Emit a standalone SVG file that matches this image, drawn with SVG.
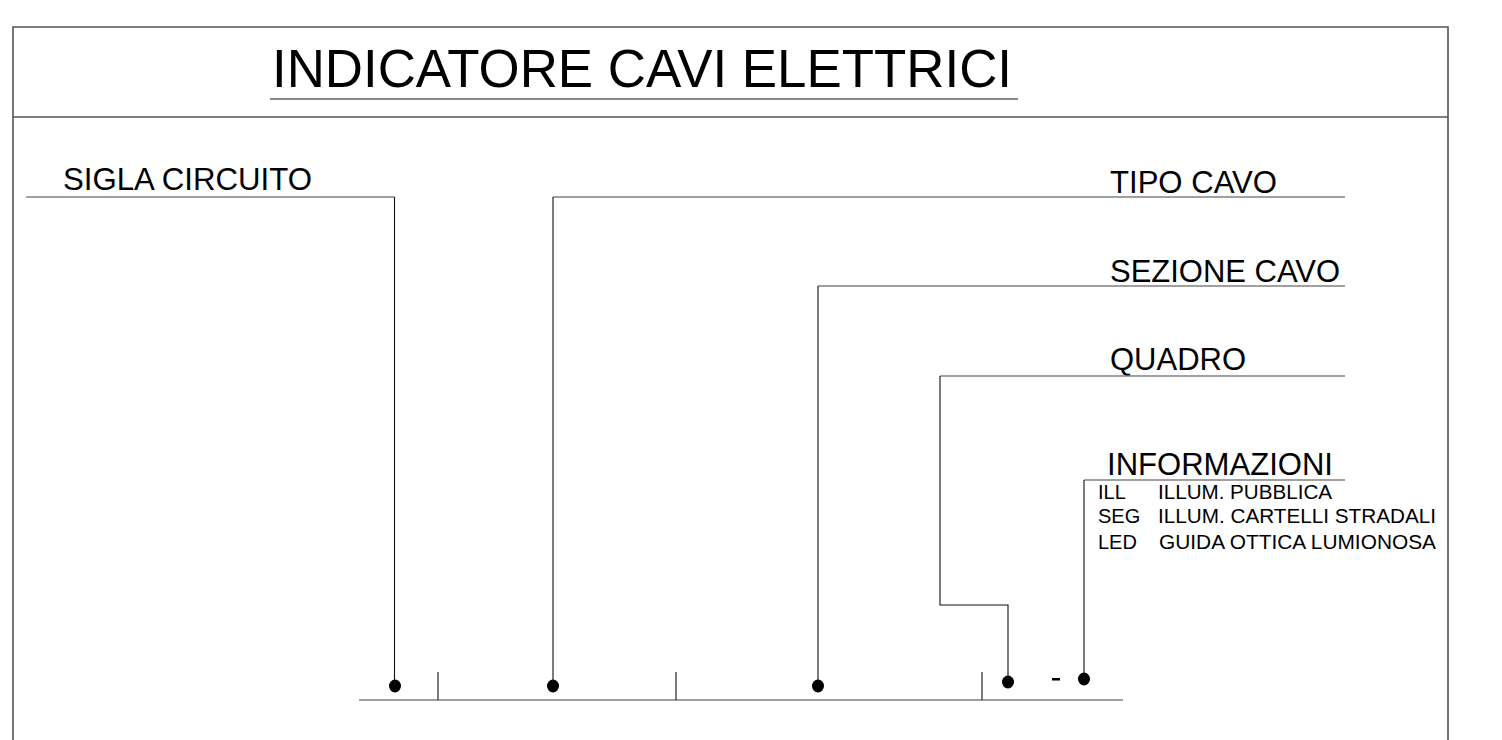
<svg xmlns="http://www.w3.org/2000/svg" width="1502" height="740" viewBox="0 0 1502 740">
<style>
.frame{stroke:#555;stroke-width:1.6;fill:none}
.ln{stroke:#111;stroke-width:1.1;fill:none}
.hl{stroke:#808080;stroke-width:1.6;fill:none}
.lbl{font-family:"Liberation Sans",Arial,sans-serif;font-size:31px;fill:#000}
.sm{font-family:"Liberation Sans",Arial,sans-serif;font-size:20px;fill:#000}
.dot{fill:#000}
</style>
<rect width="1502" height="740" fill="#fff"/>
<g id="frame">
<path class="frame" d="M13,742 V27 H1448 V742"/>
<line class="frame" x1="13" y1="117" x2="1448" y2="117"/>
</g>
<g id="title">
<text x="272" y="87" font-family="Liberation Sans,Arial,sans-serif" font-size="53" textLength="740" lengthAdjust="spacingAndGlyphs">INDICATORE CAVI ELETTRICI</text>
<line class="ln" x1="270" y1="99" x2="1018" y2="99"/>
</g>
<g id="sigla"><text class="lbl" x="63" y="190" textLength="249" lengthAdjust="spacingAndGlyphs">SIGLA CIRCUITO</text></g>
<g id="tipo"><text class="lbl" x="1110" y="193" textLength="167" lengthAdjust="spacingAndGlyphs">TIPO CAVO</text></g>
<g id="sezione"><text class="lbl" x="1110" y="282" textLength="230" lengthAdjust="spacingAndGlyphs">SEZIONE CAVO</text></g>
<g id="quadro"><text class="lbl" x="1110" y="370">QUADRO</text></g>
<g id="informazioni">
<text class="lbl" x="1107" y="475" textLength="226" lengthAdjust="spacingAndGlyphs">INFORMAZIONI</text>
<text class="sm" x="1098" y="499">ILL</text><text class="sm" x="1158" y="499" textLength="174" lengthAdjust="spacingAndGlyphs">ILLUM. PUBBLICA</text>
<text class="sm" x="1098" y="523">SEG</text><text class="sm" x="1158" y="523" textLength="278" lengthAdjust="spacingAndGlyphs">ILLUM. CARTELLI STRADALI</text>
<text class="sm" x="1098" y="549">LED</text><text class="sm" x="1159" y="549" textLength="277" lengthAdjust="spacingAndGlyphs">GUIDA OTTICA LUMIONOSA</text>
</g>
<g id="code-bar">
<line class="hl" x1="359" y1="700" x2="1123" y2="700"/>
<line class="ln" x1="438" y1="672" x2="438" y2="700"/>
<line class="ln" x1="676" y1="672" x2="676" y2="700"/>
<line class="ln" x1="982" y1="672" x2="982" y2="700"/>
<rect x="1052" y="678" width="8" height="2.5" fill="#000"/>
<ellipse class="dot" cx="395" cy="686" rx="6" ry="6.5"/>
<ellipse class="dot" cx="553" cy="686" rx="6" ry="6.5"/>
<ellipse class="dot" cx="818" cy="686" rx="6" ry="6.5"/>
<ellipse class="dot" cx="1008" cy="682" rx="6" ry="6.5"/>
<ellipse class="dot" cx="1084" cy="679" rx="6" ry="6.5"/>
</g>
<g id="connectors">
<line class="hl" x1="26" y1="197" x2="394.5" y2="197"/>
<line class="ln" x1="394.5" y1="197" x2="394.5" y2="686"/>
<line class="hl" x1="553" y1="197" x2="1345" y2="197"/>
<line class="ln" x1="553" y1="197" x2="553" y2="686"/>
<line class="hl" x1="818" y1="286" x2="1345" y2="286"/>
<line class="ln" x1="818" y1="286" x2="818" y2="686"/>
<line class="hl" x1="940" y1="376" x2="1345" y2="376"/>
<path class="ln" d="M940,376 V605 H1008 V682"/>
<line class="hl" x1="1084" y1="480" x2="1345" y2="480"/>
<line class="ln" x1="1084" y1="480" x2="1084" y2="679"/>
</g>
</svg>
